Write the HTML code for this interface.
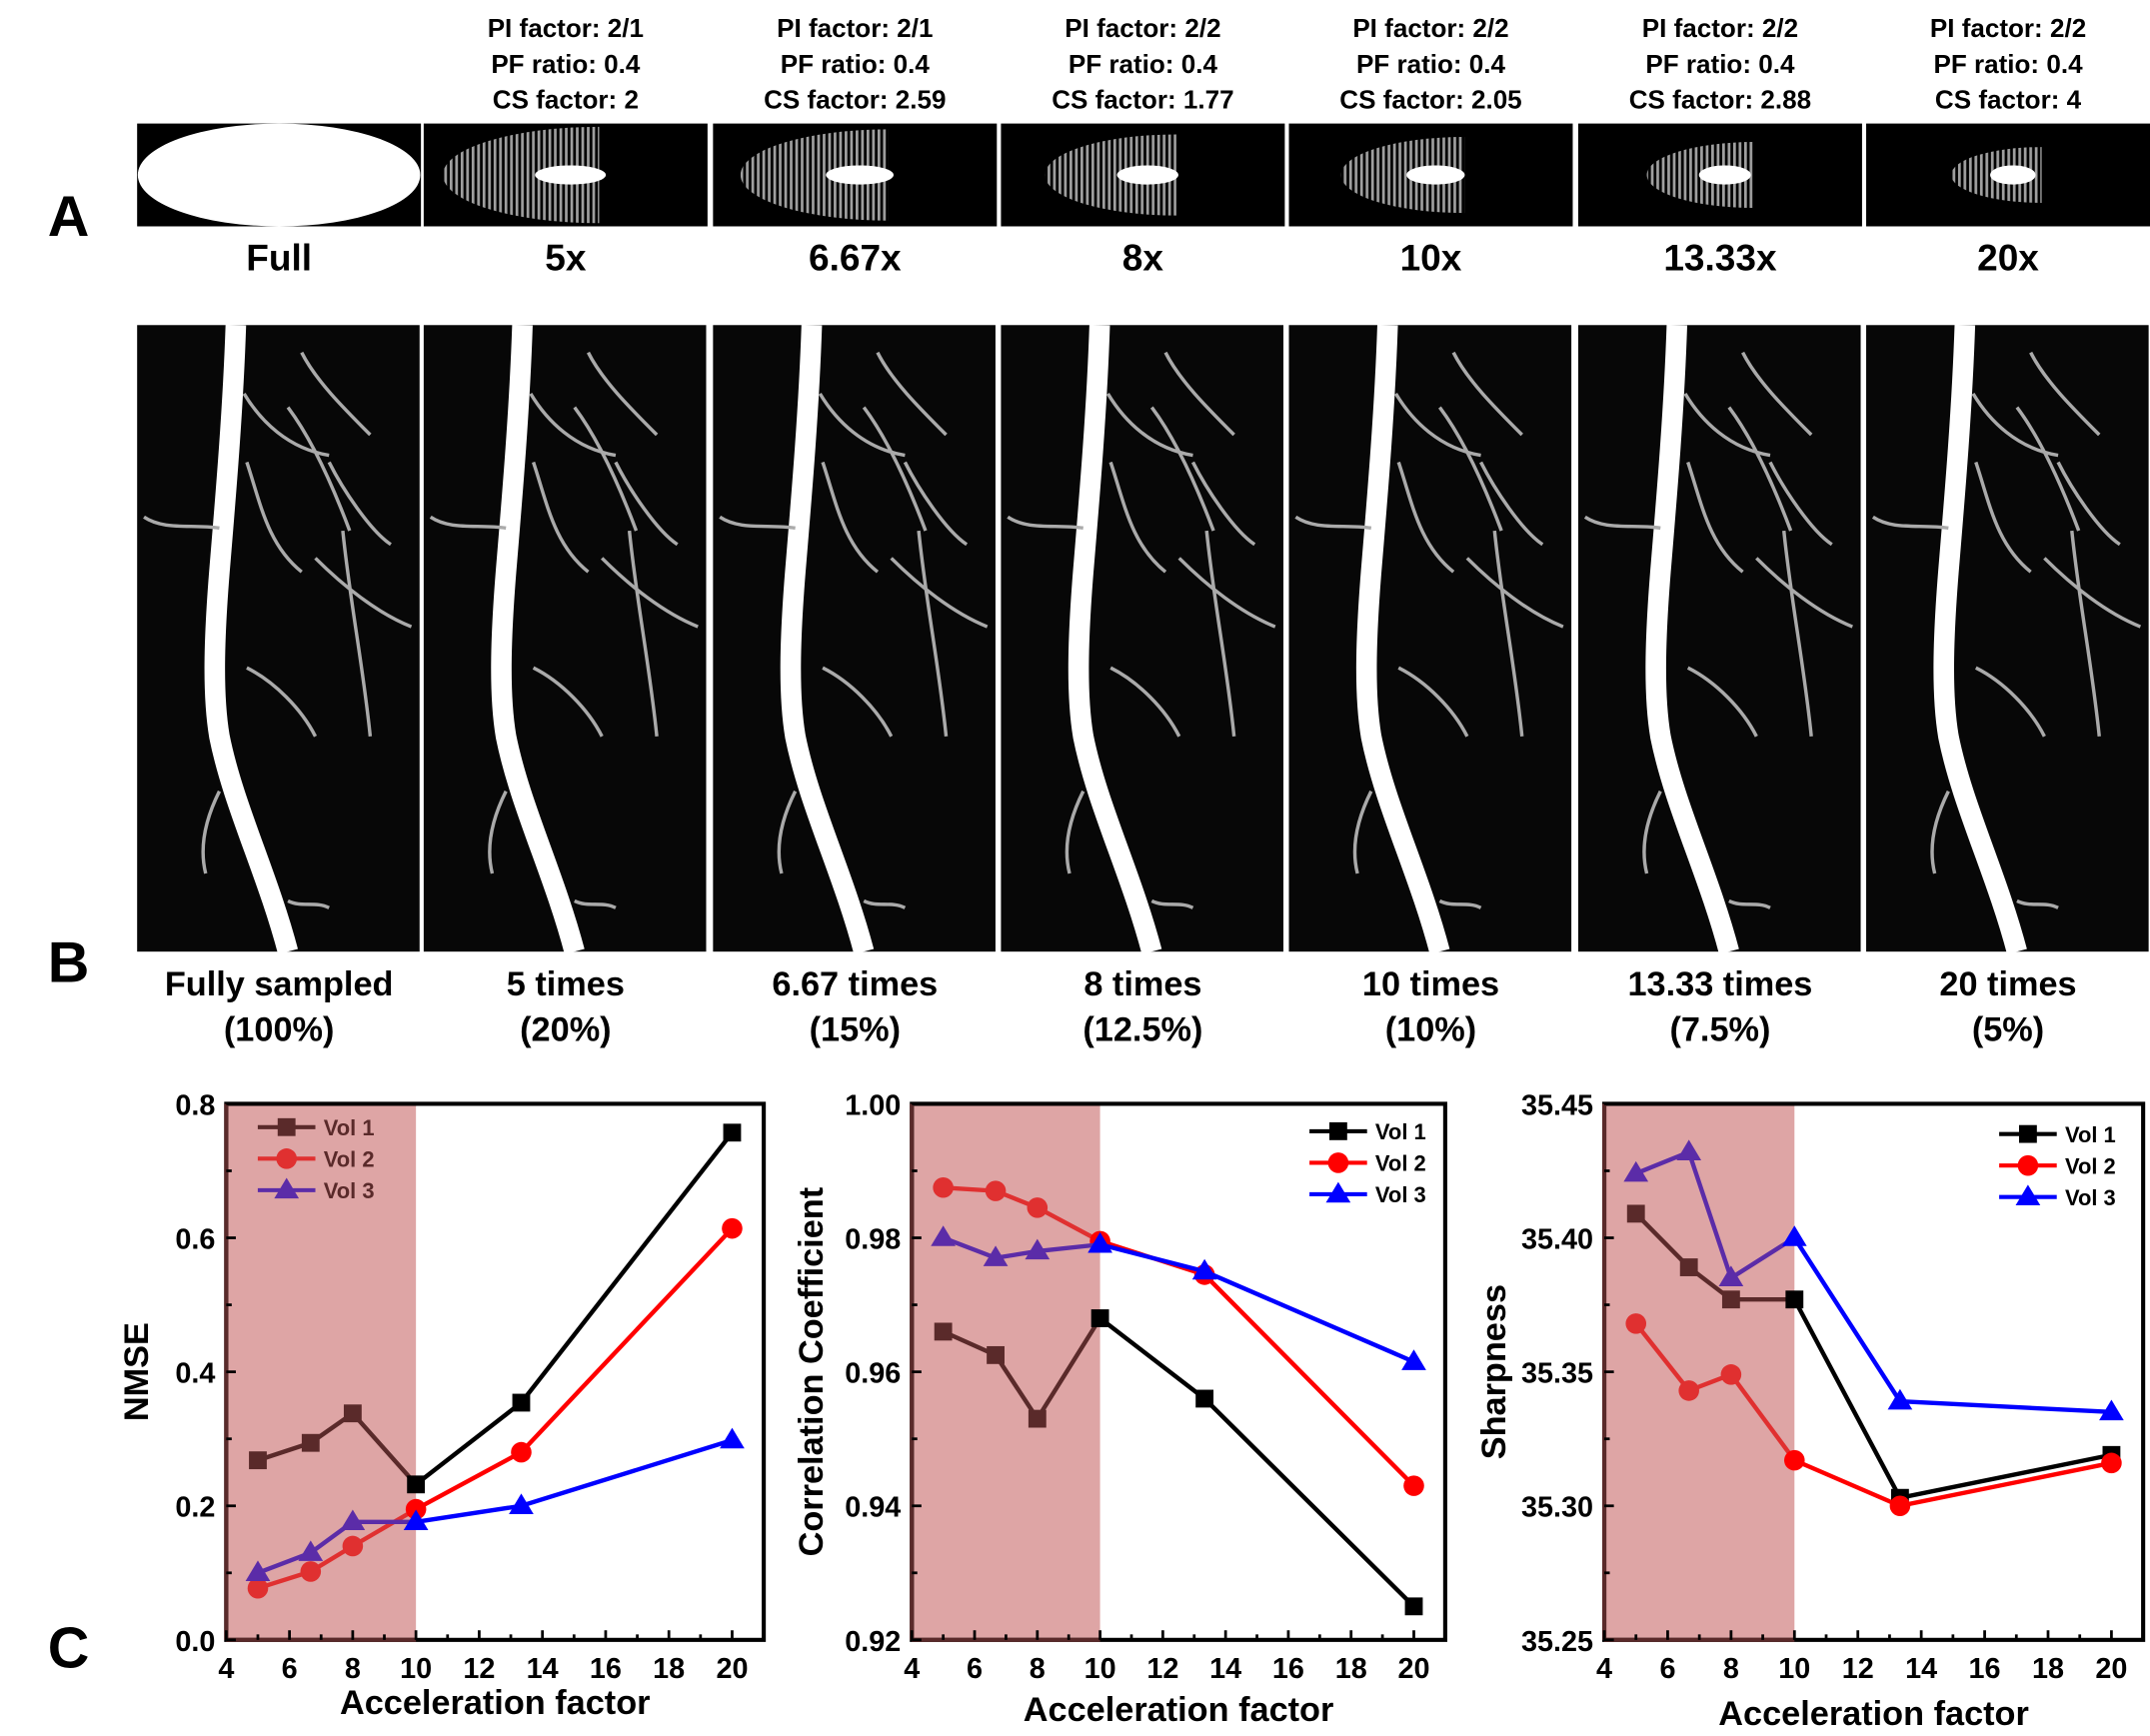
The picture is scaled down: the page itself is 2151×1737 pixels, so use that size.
<!DOCTYPE html>
<html><head><meta charset="utf-8"><style>
html,body{margin:0;padding:0;background:#fff}
svg{display:block}
text{font-family:"Liberation Sans",sans-serif;font-weight:bold;fill:#000}
</style></head><body>
<svg id="fig" width="2151" height="1737" viewBox="0 0 1568 1266" xmlns="http://www.w3.org/2000/svg">
<defs>
<pattern id="dots" width="4" height="4" patternUnits="userSpaceOnUse"><rect width="4" height="4" fill="#000"/><rect width="2" height="4" fill="#bbb"/></pattern>
<g id="vessel">
<rect x="0" y="0" width="206" height="457" fill="#070707"/>
<path d="M72 0 C70 60 65 120 60 180 C56 230 55 270 60 300 C70 350 95 400 110 457" stroke="#fff" stroke-width="15" fill="none"/>
<path d="M78 50 C90 70 110 90 140 95 M110 60 C125 80 140 110 155 150 M120 20 C130 40 150 60 170 80 M140 100 C150 120 170 150 185 160 M80 100 C90 130 95 160 120 180 M5 140 C20 150 40 145 60 148 M130 170 C150 190 175 210 200 220 M80 250 C100 260 120 280 130 300 M60 340 C50 360 45 380 50 400 M110 420 C120 425 130 420 140 425 M150 150 C155 200 165 250 170 300" stroke="#aaa" stroke-width="2.5" fill="none"/>
</g>
</defs>

<text x="50" y="172" font-size="42" text-anchor="middle">A</text>
<text x="50" y="716" font-size="42" text-anchor="middle">B</text>
<text x="50" y="1216" font-size="42" text-anchor="middle">C</text>

<g id="panelA"></g>
<g id="panelB"></g>
<g id="charts"></g>
</svg>
<script>
const NS="http://www.w3.org/2000/svg";
function mk(tag,attrs,parent,txt){const e=document.createElementNS(NS,tag);for(const k in attrs)e.setAttribute(k,attrs[k]);if(txt!==undefined)e.textContent=txt;parent.appendChild(e);return e;}

const colX=[100,309,520,730,940,1151,1361];
const colW=207;
const maskLabels=["Full","5x","6.67x","8x","10x","13.33x","20x"];
const piFactors=["","2/1","2/1","2/2","2/2","2/2","2/2"];
const csFactors=["","2","2.59","1.77","2.05","2.88","4"];
const maskSpread=[1,0.95,0.9,0.8,0.75,0.65,0.55];
const bLabels1=["Fully sampled","5 times","6.67 times","8 times","10 times","13.33 times","20 times"];
const bLabels2=["(100%)","(20%)","(15%)","(12.5%)","(10%)","(7.5%)","(5%)"];

const A=document.getElementById('panelA');
colX.forEach((x,i)=>{
  const cx=x+colW/2;
  const g=mk('g',{},A);
  
  
  mk('rect',{x:x,y:90,width:colW,height:75,fill:'#000'},g);
  if(i===0){mk('ellipse',{cx:cx,cy:127.5,rx:103,ry:37.5,fill:'#fff'},g);}
  else{
    const s=maskSpread[i];
    mk('path',{d:`M${x+128} ${127.5-37*s} A ${120*s} ${37*s} 0 0 0 ${x+128} ${127.5+37*s} Z`,fill:'url(#dots)',opacity:0.85},g);
    mk('ellipse',{cx:x+107,cy:127.5,rx:23*s+4,ry:7,fill:'#fff'},g);
    const t1=mk('text',{x:cx,y:27,'font-size':19,'text-anchor':'middle'},g,'PI factor: '+piFactors[i]);
    
    
    const t2=mk('text',{x:cx,y:53,'font-size':19,'text-anchor':'middle'},g,'PF ratio: 0.4');
    
    
    const t3=mk('text',{x:cx,y:79,'font-size':19,'text-anchor':'middle'},g,'CS factor: '+csFactors[i]);
    
    
  }
  const t=mk('text',{x:cx,y:197,'font-size':27,'text-anchor':'middle'},g,maskLabels[i]);
  
  
});

const B=document.getElementById('panelB');
colX.forEach((x,i)=>{
  const g=mk('g',{},B);
  
  
  mk('use',{href:'#vessel',transform:`translate(${x},237)`},g);
  const cx=x+colW/2;
  const t=mk('text',{x:cx,y:726,'font-size':25,'text-anchor':'middle'},g,bLabels1[i]);
  
  
  const t2=mk('text',{x:cx,y:759,'font-size':25,'text-anchor':'middle'},g,bLabels2[i]);
  
  
});

// ---- chart data ----
const accel=[5,6.67,8,10,13.33,20];
const nmseVol1=[0.268,0.294,0.338,0.232,0.354,0.757];
const nmseVol2=[0.077,0.102,0.140,0.195,0.280,0.614];
const nmseVol3=[0.100,0.130,0.176,0.176,0.200,0.298];
const ccVol1=[0.966,0.9625,0.953,0.968,0.956,0.925];
const ccVol2=[0.9875,0.987,0.9845,0.9795,0.9745,0.943];
const ccVol3=[0.980,0.977,0.978,0.979,0.975,0.9615];
const shVol1=[35.409,35.389,35.377,35.377,35.303,35.319];
const shVol2=[35.368,35.343,35.349,35.317,35.300,35.316];
const shVol3=[35.424,35.432,35.385,35.400,35.339,35.335];
const xTicks=[4,6,8,10,12,14,16,18,20];
const nmseTicks=["0.0","0.2","0.4","0.6","0.8"];
const ccTicks=["0.92","0.94","0.96","0.98","1.00"];
const shTicks=["35.25","35.30","35.35","35.40","35.45"];
const seriesNames=["Vol 1","Vol 2","Vol 3"];

const C=document.getElementById('charts');
function chart(cfg){
  const g=mk('g',{},C);
  
  
  const {x0,x1,y0,y1,ymin,ymax}=cfg;
  const sx=v=>x0+(v-4)/(21-4)*(x1-x0);
  const sy=v=>y1-(v-ymin)/(ymax-ymin)*(y1-y0);
  mk('rect',{x:x0,y:y0,width:sx(10)-x0,height:y1-y0,fill:'#dea5a5'},g);
  mk('rect',{x:x0,y:y0,width:x1-x0,height:y1-y0,fill:'none',stroke:'#000','stroke-width':3},g);
  mk('line',{x1:x0,y1:y0,x2:x0,y2:y1,stroke:'#5a2a2a','stroke-width':3},g);
  mk('line',{x1:x0,y1:y1,x2:sx(10),y2:y1,stroke:'#5a2a2a','stroke-width':3},g);
  for(let v=4;v<=21;v++){const major=v%2===0;mk('line',{x1:sx(v),y1:y1,x2:sx(v),y2:y1-(major?7:4),stroke:'#000','stroke-width':2},g);}
  xTicks.forEach(v=>{const t=mk('text',{x:sx(v),y:y1+28,'font-size':21,'text-anchor':'middle'},g,String(v));
    
    });
  cfg.ticks.forEach((lab,i)=>{const v=ymin+i*(ymax-ymin)/(cfg.ticks.length-1);
    mk('line',{x1:x0,y1:sy(v),x2:x0+7,y2:sy(v),stroke:'#000','stroke-width':2},g);
    if(i<cfg.ticks.length-1)mk('line',{x1:x0,y1:sy(v+(ymax-ymin)/8),x2:x0+4,y2:sy(v+(ymax-ymin)/8),stroke:'#000','stroke-width':2},g);
    const t=mk('text',{x:x0-8,y:sy(v)+8,'font-size':21,'text-anchor':'end'},g,lab);
    
    });
  const xt=mk('text',{x:(x0+x1)/2,y:y1+cfg.xtOff,'font-size':25,'text-anchor':'middle'},g,'Acceleration factor');
  
  
  const yt=mk('text',{x:0,y:0,'font-size':25,'text-anchor':'middle',transform:`translate(${cfg.ytX},${(y0+y1)/2}) rotate(-90)`},g,cfg.ytitle);
  
  
  const shadeCols=['#5a2a2a','#e03030','#5b2ca8'];
  const mainCols=['#000','#f00','#00f'];
  const shapes=['sq','ci','tr'];
  function marker(p,x,y,col,shape){
    if(shape==='sq')return mk('rect',{x:x-6.5,y:y-6.5,width:13,height:13,fill:col},p);
    if(shape==='ci')return mk('circle',{cx:x,cy:y,r:7.5,fill:col},p);
    return mk('path',{d:`M${x} ${y-9} L${x+9} ${y+6} L${x-9} ${y+6} Z`,fill:col},p);
  }
  cfg.series.forEach((vals,k)=>{
    const sg=mk('g',{},g);
    
    
    const pts=vals.map((v,i)=>[sx(accel[i]),sy(v)]);
    const p1=pts.slice(0,4).map(p=>p.join(',')).join(' ');
    const p2=pts.slice(3).map(p=>p.join(',')).join(' ');
    mk('polyline',{points:p1,fill:'none',stroke:shadeCols[k],'stroke-width':3.2},sg);
    mk('polyline',{points:p2,fill:'none',stroke:mainCols[k],'stroke-width':3.2},sg);
    pts.forEach((p,i)=>{const m=marker(sg,p[0],p[1],i<3?shadeCols[k]:mainCols[k],shapes[k]);
      
      });
  });
  const lg=mk('g',{},g);
  
  
  const lc=cfg.legendShade?shadeCols:mainCols;
  seriesNames.forEach((n,k)=>{
    const ly=cfg.ly+k*23;
    mk('line',{x1:cfg.lx,y1:ly,x2:cfg.lx+42,y2:ly,stroke:lc[k],'stroke-width':3},lg);
    marker(lg,cfg.lx+21,ly,lc[k],shapes[k]);
    const t=mk('text',{x:cfg.lx+48,y:ly+6,'font-size':16},lg,n);
    
    
    t.style.fill=cfg.legendShade?'#5a2a2a':'#000';
  });
}
chart({name:'nmse-chart',x0:165,x1:557,y0:805,y1:1196,ymin:0,ymax:0.8,ticks:nmseTicks,series:[nmseVol1,nmseVol2,nmseVol3],ytitle:'NMSE',ytX:108,xtOff:54,lx:188,ly:822,legendShade:true});
chart({name:'correlation-chart',x0:665,x1:1054,y0:805,y1:1196,ymin:0.92,ymax:1.0,ticks:ccTicks,series:[ccVol1,ccVol2,ccVol3],ytitle:'Correlation Coefficient',ytX:600,xtOff:59,lx:955,ly:825,legendShade:false});
chart({name:'sharpness-chart',x0:1170,x1:1563,y0:805,y1:1196,ymin:35.25,ymax:35.45,ticks:shTicks,series:[shVol1,shVol2,shVol3],ytitle:'Sharpness',ytX:1098,xtOff:62,lx:1458,ly:827,legendShade:false});
</script>
</body></html>
